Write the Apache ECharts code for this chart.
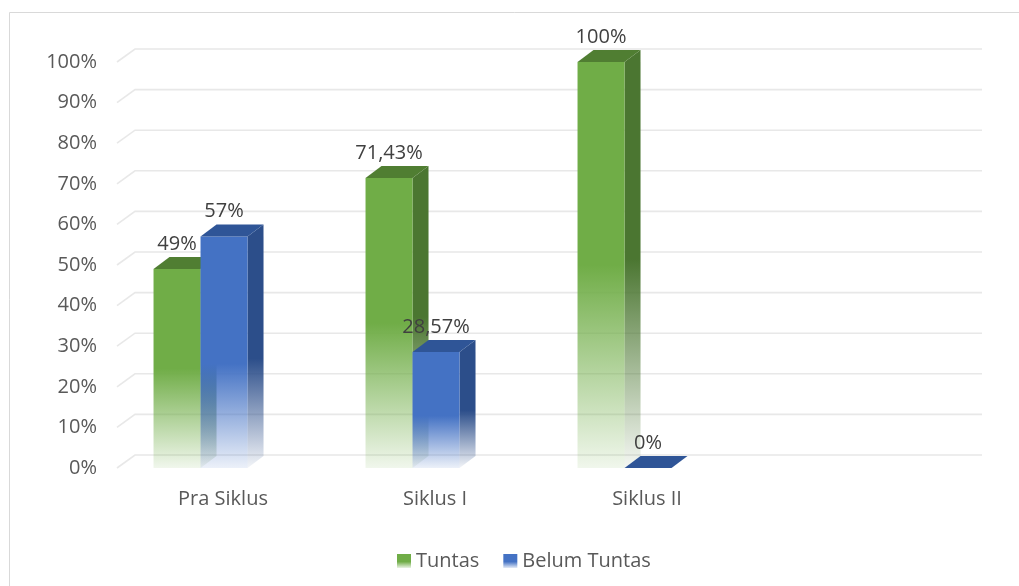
<!DOCTYPE html>
<html>
<head>
<meta charset="utf-8">
<script src="https://cdn.jsdelivr.net/npm/echarts@6/dist/echarts.min.js"></script>
<style>
html,body{margin:0;padding:0;background:#fff;}
#chart{width:1019px;height:586px;}
</style>
</head>
<body>
<div id="chart"></div>
<script>
const categories = ['Pra Siklus', 'Siklus I', 'Siklus II', ''];
const tuntas = [49, 71.43, 100];
const belumTuntas = [57, 28.57, 0];
const yTicks = [0, 10, 20, 30, 40, 50, 60, 70, 80, 90, 100];
const seriesNames = ['Tuntas', 'Belum Tuntas'];

const FONT = "'Open Sans', sans-serif";
const palette = [
  {front: '#70AD47', side: '#4B7631', top: '#507E32', rgb: '112,173,71', sideRgb: '75,118,49'},
  {front: '#4472C4', side: '#2C4E8A', top: '#2F5597', rgb: '68,114,196', sideRgb: '44,78,138'}
];

function grad(hex, rgb, stop, endAlpha) {
  return new echarts.graphic.LinearGradient(0, 0, 0, 1, [
    {offset: 0, color: hex},
    {offset: stop, color: hex},
    {offset: 1, color: 'rgba(' + rgb + ',' + endAlpha + ')'}
  ]);
}

function fmt(v) {
  return String(v).replace('.', ',') + '%';
}

function barRenderer(sIdx) {
  const p = palette[sIdx];
  return function (params, api) {
    const cat = api.value(0);
    const val = api.value(1);
    const topPt = api.coord([cat, val]);
    const basePt = api.coord([cat, 0]);
    const catW = api.size([1, 0])[0];
    const bw = catW * 0.2217;
    const shift = -catW * 0.106;
    const dx = 16, dy = -12;
    const center = topPt[0] + shift;
    const fl = sIdx === 0 ? center - bw : center;
    const fr = fl + bw;
    const top = topPt[1];
    const base = basePt[1];
    const stop = sIdx === 0 ? 0.5 : 0.55;
    const children = [];
    if (base - top > 0.5) {
      children.push({
        type: 'polygon',
        shape: {points: [[fr, top], [fr + dx, top + dy], [fr + dx, base + dy], [fr, base]]},
        style: {fill: grad(p.side, p.sideRgb, stop, 0.06)}
      });
      children.push({
        type: 'rect',
        shape: {x: fl, y: top, width: bw, height: base - top},
        style: {fill: grad(p.front, p.rgb, stop, 0.1)}
      });
    }
    children.push({
      type: 'polygon',
      shape: {points: [[fl, top], [fl + dx, top + dy], [fr + dx, top + dy], [fr, top]]},
      style: {fill: p.top}
    });
    children.push({
      type: 'text',
      style: {
        text: fmt(val),
        x: (fl + fr) / 2,
        y: top - 25,
        align: 'center',
        verticalAlign: 'middle',
        fill: '#404040',
        font: '20px ' + FONT
      }
    });
    return {type: 'group', children: children};
  };
}

function gridRenderer(params, api) {
  const y = api.coord([0, api.value(1)])[1];
  const cs = params.coordSys;
  const x0 = cs.x;
  return {
    type: 'polyline',
    shape: {points: [[x0, y], [x0 + 18, y - 13], [x0 + cs.width + 17, y - 13]]},
    style: {stroke: '#E8E8E8', lineWidth: 1.6, fill: null}
  };
}

const chart = echarts.init(document.getElementById('chart'), null, {renderer: 'canvas'});
chart.setOption({
  animation: false,
  backgroundColor: '#fff',
  textStyle: {fontFamily: FONT},
  graphic: [{
    type: 'rect',
    shape: {x: 9.5, y: 12.5, width: 1030, height: 600},
    style: {fill: null, stroke: '#D9D9D9', lineWidth: 1},
    z: -10, silent: true
  }],
  grid: {left: 117, right: 54, top: 62, bottom: 118},
  xAxis: {
    type: 'category',
    data: categories,
    boundaryGap: true,
    axisLine: {show: false},
    axisTick: {show: false},
    splitLine: {show: false},
    axisLabel: {color: '#595959', fontSize: 20, fontFamily: FONT, margin: 21}
  },
  yAxis: {
    type: 'value',
    min: 0, max: 100, interval: 10,
    axisLine: {show: false},
    axisTick: {show: false},
    splitLine: {show: false},
    axisLabel: {color: '#595959', fontSize: 20, fontFamily: FONT, margin: 20, formatter: '{value}%'}
  },
  legend: {
    data: seriesNames,
    left: 392, top: 546,
    icon: 'rect',
    itemWidth: 14, itemHeight: 14,
    itemGap: 24,
    textStyle: {color: '#595959', fontSize: 20, fontFamily: FONT}
  },
  series: [
    {
      type: 'custom',
      name: 'grid',
      z: 1,
      silent: true,
      renderItem: gridRenderer,
      data: yTicks.map(v => [0, v])
    },
    {
      type: 'custom',
      name: seriesNames[0],
      z: 2,
      renderItem: barRenderer(0),
      itemStyle: {color: grad(palette[0].front, palette[0].rgb, 0.55, 0.15)},
      data: tuntas.map((v, i) => [i, v])
    },
    {
      type: 'custom',
      name: seriesNames[1],
      z: 3,
      renderItem: barRenderer(1),
      itemStyle: {color: grad(palette[1].front, palette[1].rgb, 0.55, 0.15)},
      data: belumTuntas.map((v, i) => [i, v])
    }
  ]
});
</script>
</body>
</html>
